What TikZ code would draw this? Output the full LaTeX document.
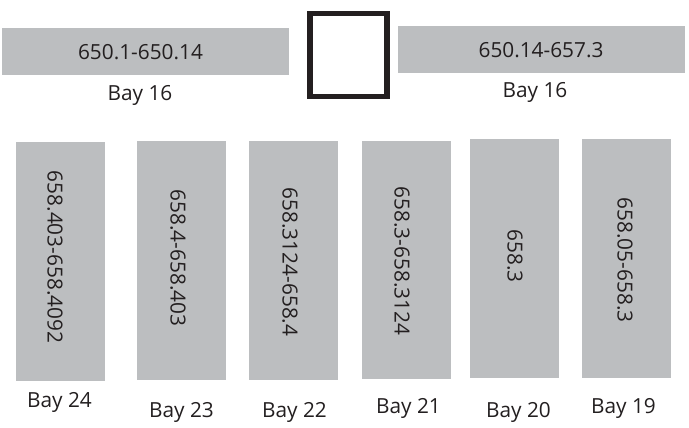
\documentclass[tikz,border=0pt]{standalone}
\usepackage{fontspec}
\setmainfont{Open Sans}
\definecolor{shelfgray}{RGB}{188,190,192}
\definecolor{ink}{RGB}{35,31,32}
\begin{document}
\begin{tikzpicture}[x=1pt,y=-1pt,
  shelf/.style={fill=shelfgray,draw=none,inner sep=0pt,anchor=north west},
  lbl/.style={text=ink,font=\fontsize{20.8}{24}\selectfont,inner sep=0pt,anchor=base},
  vlbl/.style={text=ink,font=\fontsize{20.8}{24}\selectfont,inner sep=0pt,anchor=center,rotate=-90}]
\useasboundingbox (0,0) rectangle (689,428);
% top shelves
\node[shelf,minimum width=287pt,minimum height=47pt] (top1) at (2,28) {};
\node[shelf,minimum width=287pt,minimum height=47pt] (top2) at (398,26) {};
\node[draw=ink,line width=5.5pt,minimum width=77pt,minimum height=83pt,inner sep=0pt,anchor=north west] (sq) at (307,11) {};
\node[lbl] (t1) at (140.5,60) {650.1-650.14};
\node[lbl] (t2) at (541,58) {650.14-657.3};
\node[lbl] (b16a) at (140,100) {Bay 16};
\node[lbl] (b16b) at (535,97.5) {Bay 16};
% vertical shelves
\node[shelf,minimum width=89pt,minimum height=239pt] (s24) at (16,142) {};
\node[shelf,minimum width=89pt,minimum height=239pt] (s23) at (137,141) {};
\node[shelf,minimum width=89pt,minimum height=239pt] (s22) at (249,141) {};
\node[shelf,minimum width=89pt,minimum height=238pt] (s21) at (362,141) {};
\node[shelf,minimum width=89pt,minimum height=239pt] (s20) at (470,139) {};
\node[shelf,minimum width=89pt,minimum height=239pt] (s19) at (582,139) {};
\node[vlbl] (v24) at (55,257) {658.403-658.4092};
\node[vlbl] (v23) at (178,258) {658.4-658.403};
\node[vlbl] (v22) at (290,262) {658.3124-658.4};
\node[vlbl] (v21) at (402,261) {658.3-658.3124};
\node[vlbl] (v20) at (515,256) {658.3};
\node[vlbl] (v19) at (625,260) {658.05-658.3};
% bay labels
\node[lbl] (b24) at (59.5,407) {Bay 24};
\node[lbl] (b23) at (181.5,417) {Bay 23};
\node[lbl] (b22) at (294.5,417) {Bay 22};
\node[lbl] (b21) at (408.5,413) {Bay 21};
\node[lbl] (b20) at (518.5,417) {Bay 20};
\node[lbl] (b19) at (623.5,413) {Bay 19};
\end{tikzpicture}
\end{document}
